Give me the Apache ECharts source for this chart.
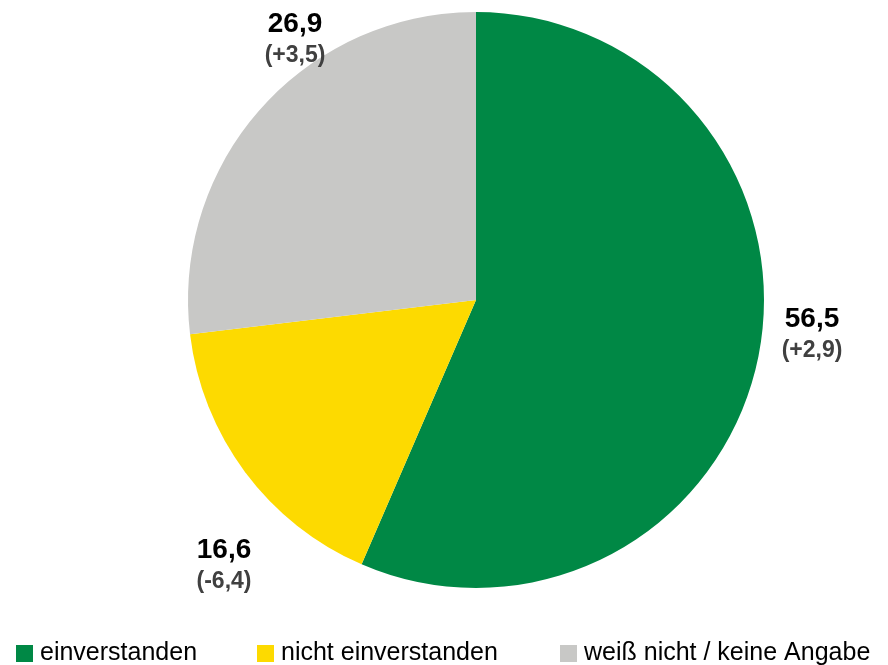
<!DOCTYPE html>
<html><head><meta charset="utf-8">
<script src="https://cdn.jsdelivr.net/npm/echarts@6/dist/echarts.min.js"></script>
<style>html,body{margin:0;padding:0;background:#fff}#c{width:888px;height:665px}</style>
</head><body><div id="c"></div>
<script>
const categories = ['einverstanden', 'nicht einverstanden', 'weiß nicht / keine Angabe'];
const values = [56.5, 16.6, 26.9];
const changes = [2.9, -6.4, 3.5];
const colors = ['#008845', '#FDDA00', '#C8C8C6'];
const labelCenters = [[812, 335], [224, 566], [295, 40]];

const fmt = v => v.toFixed(1).replace('.', ',');
const fmtChg = v => (v > 0 ? '+' : '') + fmt(v);

const chart = echarts.init(document.getElementById('c'), null, {renderer: 'canvas'});
const legendLeft = [16, 257, 560];
chart.setOption({
  animation: false,
  color: colors,
  legend: categories.map((c, i) => ({
    data: [c], left: legendLeft[i], top: 641, orient: 'horizontal',
    itemWidth: 17, itemHeight: 17, icon: 'rect', itemGap: 0,
    textStyle: {fontFamily: 'Liberation Sans', fontSize: 25, color: '#000', padding: [0, 0, 0, 2]},
    padding: 0
  })),
  series: [{
    type: 'pie',
    center: [476, 300],
    radius: [0, 288],
    startAngle: 90,
    clockwise: true,
    avoidLabelOverlap: false,
    itemStyle: {borderWidth: 0},
    emphasis: {disabled: true},
    labelLine: {show: false},
    label: {
      show: true,
      position: 'outside',
      align: 'center',
      formatter: p => '{v|' + fmt(p.value) + '}\n{d|(' + fmtChg(changes[p.dataIndex]) + ')}',
      rich: {
        v: {fontFamily: 'Liberation Sans', fontSize: 28, fontWeight: 'bold', color: '#000', lineHeight: 32, align: 'center'},
        d: {fontFamily: 'Liberation Sans', fontSize: 23, fontWeight: 'bold', color: '#404040', lineHeight: 32, align: 'center'}
      }
    },
    labelLayout: p => ({
      x: labelCenters[p.dataIndex][0], y: labelCenters[p.dataIndex][1],
      align: 'center', verticalAlign: 'middle'
    }),
    data: categories.map((c, i) => ({name: c, value: values[i]}))
  }]
});
</script></body></html>
